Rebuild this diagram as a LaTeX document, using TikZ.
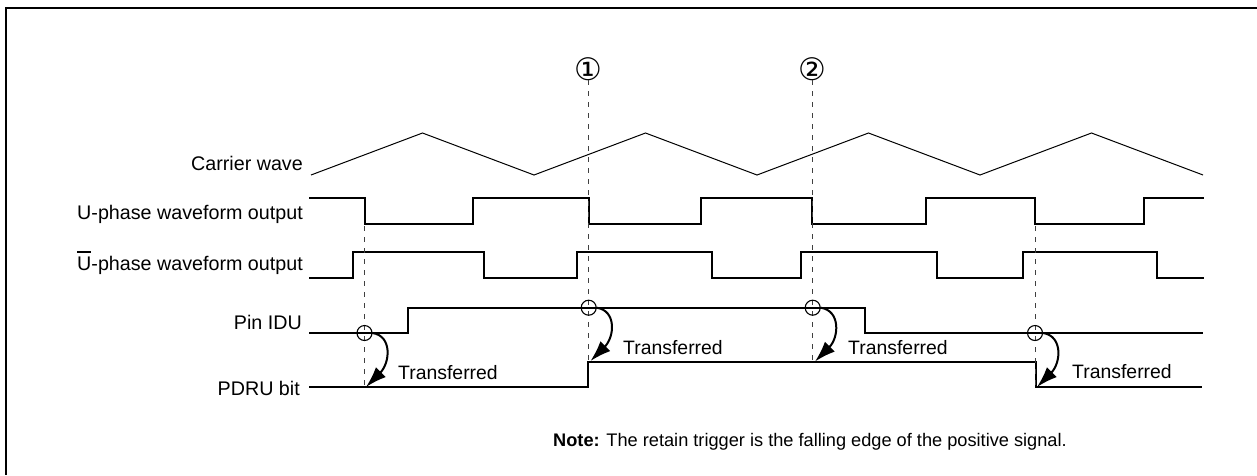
\documentclass[tikz,border=0pt]{standalone}
\usepackage{fontspec}
\setmainfont{Liberation Sans}
\newfontfamily\dejavu{DejaVu Sans}
\usetikzlibrary{arrows.meta}
\newcommand\ovU{\setbox0\hbox{U}\rlap{\rule[17.5pt]{\wd0}{1.3pt}}U}
\begin{document}
\begin{tikzpicture}[x=1pt,y=-1pt,
  lbl/.style={anchor=base east, inner sep=0pt, font=\fontsize{19.7}{22}\selectfont},
  trf/.style={anchor=base west, inner sep=0pt, font=\fontsize{19.4}{22}\selectfont},
  notetext/.style={anchor=base west, inner sep=0pt, font=\fontsize{18.2}{21}\selectfont},
  num/.style={inner sep=0pt, font=\dejavu\fontsize{31}{33}\selectfont},
  wave/.style={line width=2pt, line join=miter},
  carrier/.style={line width=1pt},
  guide/.style={line width=1pt, draw=black!75, dash pattern=on 5pt off 6pt},
  trig/.style={circle, draw, line width=1.1pt, minimum size=15pt, inner sep=0pt},
  xfer/.style={line width=2pt, -{Latex[length=21pt,width=14pt]}},
  frame/.style={line width=2pt}]
\useasboundingbox (0,0) rectangle (1257,475);
% frame
\draw[frame] (1257,8) -- (6,8) -- (6,475);

% labels
\node[lbl] (lcar) at (303,170) {Carrier wave};
\node[lbl] (lu) at (303,219.5) {U-phase waveform output};
\node[lbl] (lub) at (303,270) {\ovU-phase waveform output};
\node[lbl] (lidu) at (302,329) {Pin IDU};
\node[lbl] (lpdru) at (300,395) {PDRU bit};

% carrier wave
\draw[carrier] (311,175) -- (422.5,133) -- (534,175) -- (645.5,133) -- (757,175)
  -- (868.5,133) -- (980,175) -- (1091.5,133) -- (1203,175);

% U-phase
\draw[wave] (309,198) -| (365,224) -| (473,198) -| (589,224) -| (701,198)
  -| (812,224) -| (926,198) -| (1035,224) -| (1144,198) -- (1204,198);
% U-bar phase
\draw[wave] (309,278) -| (353,252) -| (484,278) -| (577,252) -| (712,278)
  -| (801,252) -| (937,278) -| (1023,252) -| (1157,278) -- (1204,278);
% Pin IDU
\draw[wave] (309,333) -| (408,308) -| (865,333) -- (1203,333);
% PDRU bit
\draw[wave] (309,387) -| (588,362) -| (1036,387) -- (1202,387);

% circled numbers
\node[num] (n1) at (588.7,69) {①};
\node[num] (n2) at (812.7,69) {②};

% guide coordinates
\coordinate (g1t) at (364.5,226);
\coordinate (g1b) at (364.5,387);
\coordinate (g2t) at (588.7,80);
\coordinate (g2b) at (588.7,360);
\coordinate (g3t) at (812.7,80);
\coordinate (g3b) at (812.7,362);
\coordinate (g4t) at (1035,226);
\coordinate (g4b) at (1035,387);

\draw[guide] (g1t) -- (g1b);
\draw[guide] (g2t) -- (g2b);
\draw[guide] (g3t) -- (g3b);
\draw[guide] (g4t) -- (g4b);

% trigger circles
\node[trig] (c1) at (364.5,333) {};
\node[trig] (c2) at (588.7,307.7) {};
\node[trig] (c3) at (812.7,307.7) {};
\node[trig] (c4) at (1035,333) {};

% arrow tips
\coordinate (t1) at (366,387);
\coordinate (t2) at (590.5,361);
\coordinate (t3) at (815,361.5);
\coordinate (t4) at (1037,387);

\draw[xfer] (c1.east) .. controls +(20,3) and +(24,-24) .. (t1);
\draw[xfer] (c2.east) .. controls +(20,3) and +(24,-24) .. (t2);
\draw[xfer] (c3.east) .. controls +(20,3) and +(24,-24) .. (t3);
\draw[xfer] (c4.east) .. controls +(20,3) and +(24,-24) .. (t4);

% transferred labels
\node[trf] (x1) at (398,379) {Transferred};
\node[trf] (x2) at (623,354) {Transferred};
\node[trf] (x3) at (848,354) {Transferred};
\node[trf] (x4) at (1072,378.5) {Transferred};

% note
\node[notetext] (note) at (553,446) {\textbf{Note:} The retain trigger is the falling edge of the positive signal.};
\end{tikzpicture}
\end{document}
